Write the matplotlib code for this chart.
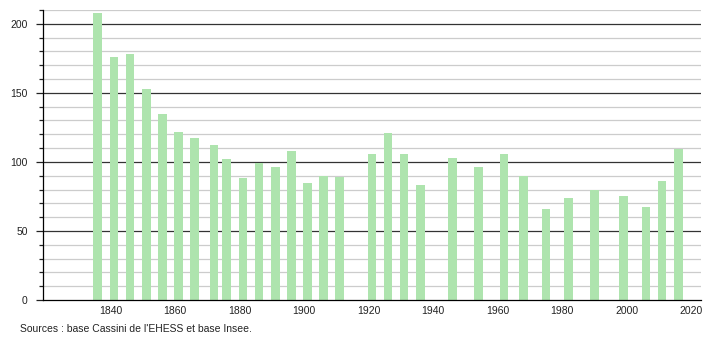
import matplotlib.pyplot as plt
from matplotlib.ticker import MultipleLocator

# Population par recensement
years = [1836, 1841, 1846, 1851, 1856, 1861, 1866, 1872, 1876, 1881, 1886,
         1891, 1896, 1901, 1906, 1911, 1921, 1926, 1931, 1936, 1946, 1954,
         1962, 1968, 1975, 1982, 1990, 1999, 2006, 2011, 2016]
population = [208, 176, 178, 153, 135, 122, 117, 112, 102, 88, 99,
              96, 108, 85, 90, 89, 106, 121, 106, 83, 103, 96,
              106, 90, 66, 74, 80, 75, 67, 86, 109]

x_ticks = [1840, 1860, 1880, 1900, 1920, 1940, 1960, 1980, 2000, 2020]
y_ticks = [0, 50, 100, 150, 200]
source = "Sources : base Cassini de l'EHESS et base Insee."

plt.rcParams["font.family"] = ["Liberation Sans", "DejaVu Sans"]

fig = plt.figure(figsize=(7.1, 3.4), dpi=100)
ax = fig.add_axes([0.0606, 0.1176, 0.9264, 0.853])

# grid: light every 10, dark every 50
for v in range(10, 211, 10):
    if v % 50 == 0:
        ax.axhline(v, color="#333333", lw=0.9, zorder=1)
    else:
        ax.axhline(v, color="#cccccc", lw=0.9, zorder=1)

ax.bar(years, population, width=2.7, color="#aee4ae", zorder=2)

ax.set_xlim(1819, 2023)
ax.set_ylim(0, 210)

ax.set_xticks(x_ticks)
ax.set_yticks(y_ticks)
ax.yaxis.set_minor_locator(MultipleLocator(10))
ax.tick_params(axis="x", length=0, labelsize=7.5, pad=4, colors="#222222")
ax.tick_params(axis="y", which="major", length=5, width=0.9, labelsize=7.5,
               pad=6, colors="#222222")
ax.tick_params(axis="y", which="minor", length=3, width=0.9, color="#222222")

for side in ("top", "right"):
    ax.spines[side].set_visible(False)
ax.spines["left"].set_linewidth(0.9)
ax.spines["bottom"].set_linewidth(0.9)

fig.text(20 / 710, 1 - 329 / 340, source, fontsize=7.5, va="center",
         ha="left", color="#222222")

fig.savefig("out.png", dpi=100, facecolor="white")
